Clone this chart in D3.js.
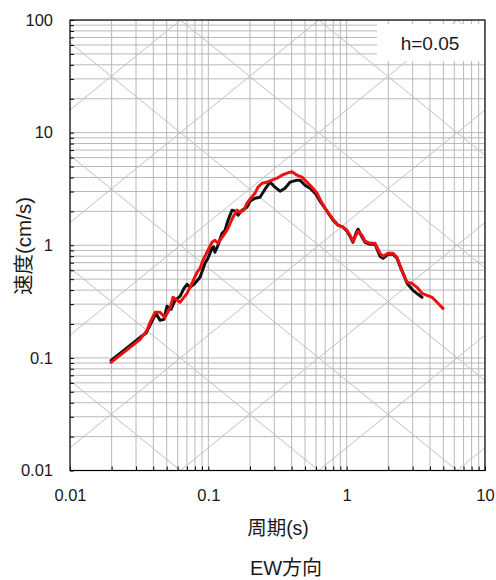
<!DOCTYPE html>
<html>
<head>
<meta charset="utf-8">
<script src="https://cdn.jsdelivr.net/npm/d3@7"></script>
<style>
  html, body { margin: 0; padding: 0; background: #fff; }
  svg { display: block; }
</style>
</head>
<body>
<svg id="chart" width="496" height="580"></svg>
<script>
// ---- data ----
const periodBlack = [0.0198,0.0250,0.0321,0.0354,0.0385,0.0418,0.0447,0.0478,0.0502,0.0537,0.0574,0.0624,0.0667,0.0701,0.0737,0.0801,0.0871,0.0946,0.0994,0.1063,0.1090,0.1117,0.1175,0.1256,0.1320,0.1388,0.1483,0.1559,0.1639,0.1751,0.1903,0.2001,0.2175,0.2363,0.2568,0.2791,0.3034,0.3297,0.3583,0.3894,0.4375,0.4600,0.4998,0.5433,0.6002,0.6416,0.7211,0.7968,0.8658,0.9408,1.0055,1.057,1.111,1.168,1.208,1.270,1.357,1.475,1.603,1.742,1.831,1.990,2.162,2.311,2.430,2.597,2.730,3.017,3.280,3.504];
const velBlack = [0.0950,0.1190,0.1521,0.1651,0.2026,0.2487,0.2154,0.2199,0.2871,0.2698,0.3246,0.3521,0.4147,0.4500,0.4232,0.4594,0.5195,0.6918,0.7663,0.9404,0.9697,0.8667,1.0,1.2785,1.3594,1.668,2.048,2.006,1.848,2.048,2.178,2.461,2.618,2.672,3.146,3.631,3.277,3.020,3.211,3.631,3.783,3.783,3.414,3.211,2.840,2.461,2.006,1.668,1.506,1.4454,1.332,1.2023,1.0634,1.2785,1.388,1.2272,1.0634,1.0207,1.0207,0.7985,0.7663,0.8318,0.8318,0.7663,0.6505,0.5412,0.4594,0.3981,0.3668,0.3451];

const periodRed = [0.0198,0.0250,0.0321,0.0360,0.0379,0.0412,0.0447,0.0486,0.0528,0.0555,0.0624,0.0701,0.0762,0.0828,0.0871,0.0915,0.0994,0.1063,0.1117,0.1175,0.1256,0.1320,0.1388,0.1459,0.1533,0.1612,0.1694,0.1810,0.1903,0.2001,0.2175,0.2287,0.2443,0.2655,0.2886,0.3136,0.3408,0.3705,0.4026,0.4375,0.4754,0.5167,0.5616,0.6103,0.6523,0.7211,0.7968,0.8658,0.9408,1.0055,1.057,1.111,1.168,1.208,1.291,1.357,1.475,1.603,1.742,1.831,1.990,2.162,2.311,2.430,2.554,2.730,2.967,3.224,3.504,3.809,4.140,4.498,4.971];
const velRed = [0.0912,0.1142,0.1460,0.1756,0.2067,0.2539,0.2539,0.2291,0.2754,0.3451,0.3115,0.3744,0.4594,0.5754,0.6246,0.7356,0.9028,1.0634,1.1076,1.0418,1.1776,1.2785,1.416,1.634,1.848,2.048,1.965,2.048,2.363,2.565,2.899,3.277,3.557,3.631,3.783,3.940,4.190,4.365,4.501,4.190,4.021,3.631,3.277,2.899,2.461,2.006,1.702,1.506,1.4454,1.3594,1.2272,1.0853,1.2272,1.332,1.2272,1.0853,1.0418,1.0418,0.8490,0.7985,0.8490,0.8490,0.7822,0.6640,0.5637,0.4689,0.4594,0.4232,0.3744,0.3594,0.3451,0.3115,0.2754];

const xTickValues = [0.01, 0.1, 1, 10];
const xTickLabels = ["0.01", "0.1", "1", "10"];
const yTickValues = [0.01, 0.1, 1, 10, 100];
const yTickLabels = ["0.01", "0.1", "1", "10", "100"];
const dispLevels = [1e-5, 1e-4, 1e-3, 1e-2, 1e-1, 1, 10, 100];   // cm
const accLevels = [1e-3, 1e-2, 1e-1, 1, 10, 100, 1e3, 1e4, 1e5]; // cm/s^2
const dampingLabel = "h=0.05";
const xTitle = "周期(s)";
const yTitle = "速度(cm/s)";
const caption = "EW方向";

// ---- layout ----
const L = 70, R = 485, T = 20, B = 470.5;
const svg = d3.select("#chart");
const x = d3.scaleLog().domain([0.01, 10]).range([L, R]);
const y = d3.scaleLog().domain([0.01, 100]).range([B, T]);

const latin = "'Liberation Sans', Arial, 'Noto Sans CJK JP', sans-serif";

svg.append("defs").append("clipPath").attr("id", "plotclip")
  .append("rect").attr("x", L).attr("y", T).attr("width", R - L).attr("height", B - T);

function logGrid(lo, hi) {
  const out = [];
  for (let e = lo; e < hi; e++) for (let m = 1; m <= 9; m++) out.push(m * Math.pow(10, e));
  out.push(Math.pow(10, hi));
  return out;
}
const xGrid = logGrid(-2, 1);
const yGrid = logGrid(-2, 2);

const grid = svg.append("g").attr("clip-path", "url(#plotclip)");
grid.selectAll("line.vx").data(xGrid).join("line")
  .attr("x1", d => x(d)).attr("x2", d => x(d)).attr("y1", T).attr("y2", B)
  .attr("stroke", "#b8b8b8").attr("stroke-width", 1);
grid.selectAll("line.hy").data(yGrid).join("line")
  .attr("class", "hy")
  .attr("x1", L).attr("x2", R).attr("y1", d => y(d)).attr("y2", d => y(d))
  .attr("stroke", "#b8b8b8").attr("stroke-width", 1);

// tripartite diagonals
const Tmin = 0.001, Tmax = 100;
grid.selectAll("line.disp").data(dispLevels).join("line")
  .attr("x1", x(Tmin)).attr("y1", d => y(2 * Math.PI * d / Tmin))
  .attr("x2", x(Tmax)).attr("y2", d => y(2 * Math.PI * d / Tmax))
  .attr("stroke", "#c0c0c0").attr("stroke-width", 1);
grid.selectAll("line.acc").data(accLevels).join("line")
  .attr("x1", x(Tmin)).attr("y1", d => y(d * Tmin / (2 * Math.PI)))
  .attr("x2", x(Tmax)).attr("y2", d => y(d * Tmax / (2 * Math.PI)))
  .attr("stroke", "#c0c0c0").attr("stroke-width", 1);

// damping label box
svg.append("rect").attr("x", 377).attr("y", 24).attr("width", 107).attr("height", 37).attr("fill", "#fff");
svg.append("text").attr("x", 430).attr("y", 50).attr("text-anchor", "middle")
  .style("font-family", latin).style("font-size", "19px").attr("fill", "#1a1a1a")
  .text(dampingLabel);

// curves
const line = d3.line().x(d => x(d[0])).y(d => y(d[1]));
const blackData = periodBlack.map((p, i) => [p, velBlack[i]]);
const redData = periodRed.map((p, i) => [p, velRed[i]]);
const curves = svg.append("g").attr("clip-path", "url(#plotclip)");
curves.append("path").datum(blackData).attr("d", line)
  .attr("fill", "none").attr("stroke", "#111").attr("stroke-width", 3)
  .attr("stroke-linejoin", "round").attr("stroke-linecap", "round");
curves.append("path").datum(redData).attr("d", line)
  .attr("fill", "none").attr("stroke", "#ee1111").attr("stroke-width", 3)
  .attr("stroke-linejoin", "round").attr("stroke-linecap", "round");

// frame
svg.append("rect").attr("x", L).attr("y", T).attr("width", R - L).attr("height", B - T)
  .attr("fill", "none").attr("stroke", "#000").attr("stroke-width", 1.2);

// axes
const xAxis = d3.axisBottom(x).tickValues(xGrid)
  .tickFormat(d => { const i = xTickValues.findIndex(v => Math.abs(v - d) / v < 1e-9); return i >= 0 ? xTickLabels[i] : ""; })
  .tickSize(-4).tickPadding(19);
const gx = svg.append("g").attr("transform", `translate(0,${B})`).call(xAxis);
const yAxis = d3.axisLeft(y).tickValues(yGrid)
  .tickFormat(d => { const i = yTickValues.findIndex(v => Math.abs(v - d) / v < 1e-9); return i >= 0 ? yTickLabels[i] : ""; })
  .tickSize(-4).tickPadding(17);
const gy = svg.append("g").attr("transform", `translate(${L},0)`).call(yAxis);
[gx, gy].forEach(g => {
  g.select(".domain").remove();
  g.selectAll(".tick line").attr("stroke", "#000");
  g.selectAll(".tick text").style("font-family", latin).style("font-size", "16.5px").attr("fill", "#1a1a1a");
});

// titles
svg.append("text").attr("x", 278).attr("y", 535).attr("text-anchor", "middle")
  .style("font-family", latin).style("font-size", "19.5px").attr("fill", "#1a1a1a").text(xTitle);
svg.append("text").attr("transform", "translate(31,246) rotate(-90)").attr("text-anchor", "middle")
  .style("font-family", latin).style("font-size", "20.5px").attr("fill", "#1a1a1a").text(yTitle);
svg.append("text").attr("x", 286).attr("y", 575).attr("text-anchor", "middle")
  .style("font-family", latin).style("font-size", "20px").attr("fill", "#1a1a1a").text(caption);
</script>
</body>
</html>
